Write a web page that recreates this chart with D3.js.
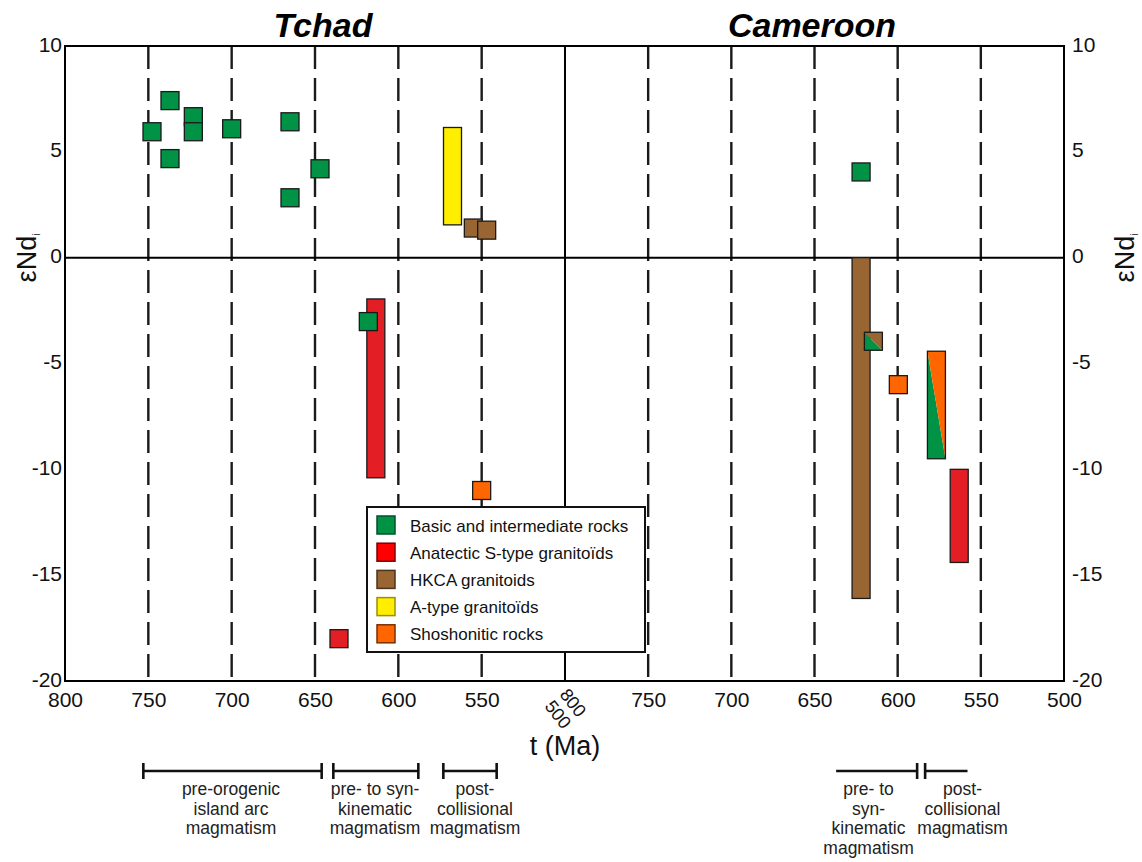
<!DOCTYPE html>
<html><head><meta charset="utf-8">
<script src="https://cdn.jsdelivr.net/npm/d3@7"></script>
<style>body{margin:0;background:#fff}svg{display:block}text{font-family:Arial,"Liberation Sans",sans-serif}</style>
</head><body><svg id="c" width="1142" height="862"></svg>
<script>
// ---- data ----
const panels = ["Tchad", "Cameroon"];
const tickValuesLeft = [800, 750, 700, 650, 600, 550];
const tickValuesRight = [750, 700, 650, 600, 550, 500];
const yTicks = [10, 5, 0, -5, -10, -15, -20];
const guideAges = [750, 700, 650, 600, 550];
const categories = ["Basic and intermediate rocks", "Anatectic S-type granitoïds", "HKCA granitoids", "A-type granitoïds", "Shoshonitic rocks"];
const catKeys = ["basic", "stype", "hkca", "atype", "shosh"];
// squares: [category, age (Ma), eNd]
const tchadSquares = [
  ["basic", 747.8, 5.95], ["basic", 737, 7.42], ["basic", 737, 4.68], ["basic", 723, 6.66], ["basic", 723, 5.95],
  ["basic", 700, 6.09], ["basic", 665, 6.42], ["basic", 665, 2.83], ["basic", 647, 4.2],
  ["stype", 635.6, -18.0], ["hkca", 555, 1.4], ["hkca", 547, 1.3], ["shosh", 550, -11.0]
];
// bars: [category, age, eNd low, eNd high]
const tchadBars = [["stype", 613.5, -10.4, -1.95], ["atype", 567.5, 1.55, 6.15]];
const tchadSquaresTop = [["basic", 618, -3.02]];
const cameroonBars = [["hkca", 622, -16.1, 0], ["stype", 563, -14.4, -10.0]];
const cameroonSquares = [["basic", 622, 4.05], ["shosh", 599.6, -6.0]];
// split marks: [lower-left category, upper-right category, age, eNd low, eNd high]
const cameroonSplitBars = [["basic", "shosh", 576.7, -9.5, -4.42]];
const cameroonSplitSquares = [["basic", "hkca", 614.6, -3.95]];
// magmatic periods: [age start, age end, label centre age, caps, lines]
const tchadPeriods = [
  [753, 646, 700.4, "both", ["pre-orogenic", "island arc", "magmatism"]],
  [639, 588, 614, "both", ["pre- to syn-", "kinematic", "magmatism"]],
  [573, 541, 554, "both", ["post-", "collisional", "magmatism"]]
];
const cameroonPeriods = [
  [637, 588.3, 617.5, "end", ["pre- to", "syn-", "kinematic", "magmatism"]],
  [583.5, 558, 561, "start", ["post-", "collisional", "magmatism"]]
];

// ---- styles ----
const fillC = {basic: "#009245", stype: "#e31e24", hkca: "#996633", atype: "#ffee00", shosh: "#ff6600"};
const legFill = {basic: "#009245", stype: "#ff0000", hkca: "#996633", atype: "#ffee00", shosh: "#ff6600"};
const legStroke = {basic: "#00502a", stype: "#7a0000", hkca: "#4d3319", atype: "#9a9000", shosh: "#7a3000"};

const svg = d3.select("#c");
const L = 65, R = 1064, T = 46, B = 681, MID = 565;
const xL = d3.scaleLinear().domain([800, 500]).range([L, MID]);
const xR = d3.scaleLinear().domain([800, 500]).range([MID, R]);
const y = d3.scaleLinear().domain([-20, 10]).range([B, T]);
const SQ = 18;

// guide dashed lines
[xL, xR].forEach(xs => {
  svg.append("g").selectAll("line").data(guideAges).join("line")
    .attr("x1", d => xs(d)).attr("x2", d => xs(d)).attr("y1", T).attr("y2", B)
    .attr("stroke", "#1a1a1a").attr("stroke-width", 2.4).attr("stroke-dasharray", "23,9");
});

// frame + zero line + middle line
svg.append("rect").attr("x", L).attr("y", T).attr("width", R - L).attr("height", B - T)
  .attr("fill", "none").attr("stroke", "#000").attr("stroke-width", 2);
svg.append("line").attr("x1", L).attr("x2", R).attr("y1", y(0)).attr("y2", y(0)).attr("stroke", "#000").attr("stroke-width", 2);
svg.append("line").attr("x1", MID).attr("x2", MID).attr("y1", T).attr("y2", B).attr("stroke", "#000").attr("stroke-width", 2);

// axes
const fmt = d => String(d);
const axL = d3.axisBottom(xL).tickValues(tickValuesLeft).tickSize(0).tickPadding(11).tickFormat(fmt);
const axR = d3.axisBottom(xR).tickValues(tickValuesRight).tickSize(0).tickPadding(11).tickFormat(fmt);
const yAxL = d3.axisLeft(y).tickValues(yTicks).tickSize(0).tickPadding(3).tickFormat(fmt);
const yAxR = d3.axisRight(y).tickValues(yTicks).tickSize(0).tickPadding(8).tickFormat(fmt);
function styleAxis(g) {
  g.select(".domain").remove();
  g.selectAll("text").attr("font-size", 21).attr("fill", "#111").style("font-family", "Arial, 'Liberation Sans', sans-serif");
}
svg.append("g").attr("transform", `translate(0,${B})`).call(axL).call(styleAxis);
svg.append("g").attr("transform", `translate(0,${B})`).call(axR).call(styleAxis);
svg.append("g").attr("transform", `translate(${L},0)`).call(yAxL).call(styleAxis).selectAll("text").attr("dy", "0.24em");
svg.append("g").attr("transform", `translate(${R},0)`).call(yAxR).call(styleAxis).selectAll("text").attr("dy", "0.24em");

// middle rotated 800/500 label
const mid = svg.append("g").attr("transform", `translate(${MID},709) rotate(52)`);
mid.append("text").attr("x", 0).attr("y", -4).attr("text-anchor", "middle").attr("font-size", 18).attr("fill", "#111").text(xR.domain()[0]);
mid.append("text").attr("x", 0).attr("y", 15).attr("text-anchor", "middle").attr("font-size", 18).attr("fill", "#111").text(xL.domain()[1]);

// axis titles
svg.append("text").attr("x", MID).attr("y", 755).attr("text-anchor", "middle").attr("font-size", 27).attr("fill", "#111").text("t (Ma)");
[[36, 258], [1134, 258]].forEach(([cx, cy]) => {
  const t = svg.append("text").attr("transform", `translate(${cx},${cy}) rotate(-90)`).attr("text-anchor", "middle")
    .attr("font-size", 27).attr("fill", "#111");
  t.append("tspan").text("εNd");
  t.append("tspan").attr("font-size", 10).attr("dy", 4).text("i");
});

// panel titles
[[323, panels[0]], [812, panels[1]]].forEach(([cx, s]) => {
  svg.append("text").attr("x", cx).attr("y", 37).attr("text-anchor", "middle").attr("font-size", 34)
    .attr("font-weight", "bold").attr("font-style", "italic").attr("fill", "#000").text(s);
});

// marks
const marks = svg.append("g").attr("stroke", "#1a1a1a").attr("stroke-width", 1.3);
function bars(data, xs) {
  marks.append("g").selectAll("rect").data(data).join("rect")
    .attr("x", d => xs(d[1]) - SQ / 2).attr("width", SQ)
    .attr("y", d => y(d[3])).attr("height", d => y(d[2]) - y(d[3]))
    .attr("fill", d => fillC[d[0]]);
}
function squares(data, xs) {
  marks.append("g").selectAll("rect").data(data).join("rect")
    .attr("x", d => xs(d[1]) - SQ / 2).attr("y", d => y(d[2]) - SQ / 2)
    .attr("width", SQ).attr("height", SQ).attr("fill", d => fillC[d[0]]);
}
function split(c1, c2, xs, t, lo, hi) {
  const x0 = xs(t) - SQ / 2, x1 = xs(t) + SQ / 2, y0 = y(hi), y1 = y(lo);
  const g = marks.append("g");
  g.append("polygon").attr("points", `${x0},${y0} ${x1},${y1} ${x0},${y1}`).attr("fill", fillC[c1]).attr("stroke", "none");
  g.append("polygon").attr("points", `${x0},${y0} ${x1},${y0} ${x1},${y1}`).attr("fill", fillC[c2]).attr("stroke", "none");
  g.append("rect").attr("x", x0).attr("y", y0).attr("width", SQ).attr("height", y1 - y0).attr("fill", "none");
}
bars(tchadBars, xL);
squares(tchadSquares, xL);
squares(tchadSquaresTop, xL);
bars(cameroonBars, xR);
squares(cameroonSquares, xR);
cameroonSplitBars.forEach(d => split(d[0], d[1], xR, d[2], d[3], d[4]));
cameroonSplitSquares.forEach(d => split(d[0], d[1], xR, d[2], d[3] - 0.425, d[3] + 0.425));

// legend
const lg = svg.append("g").attr("transform", "translate(367,507)");
lg.append("rect").attr("width", 278).attr("height", 145).attr("fill", "#fff").attr("stroke", "#111").attr("stroke-width", 2);
const rows = lg.selectAll("g.row").data(catKeys).join("g").attr("class", "row")
  .attr("transform", (d, i) => `translate(10,${18 + i * 27.2})`);
rows.append("rect").attr("x", 0).attr("y", -9).attr("width", 18).attr("height", 18)
  .attr("fill", d => legFill[d]).attr("stroke", d => legStroke[d]).attr("stroke-width", 1.5);
rows.append("text").attr("x", 33).attr("y", 6.5).attr("font-size", 17).attr("fill", "#111").text((d, i) => categories[i]);

// period brackets
const BY = 771;
function periods(data, xs) {
  data.forEach(([a, b, c, caps, lines]) => {
    const g = svg.append("g");
    const xa = xs(a), xb = xs(b);
    g.append("line").attr("x1", xa).attr("x2", xb).attr("y1", BY).attr("y2", BY).attr("stroke", "#111").attr("stroke-width", 2.6);
    if (caps === "both" || caps === "start") g.append("line").attr("x1", xa).attr("x2", xa).attr("y1", BY - 8).attr("y2", BY + 8).attr("stroke", "#111").attr("stroke-width", 2.6);
    if (caps === "both" || caps === "end") g.append("line").attr("x1", xb).attr("x2", xb).attr("y1", BY - 8).attr("y2", BY + 8).attr("stroke", "#111").attr("stroke-width", 2.6);
    g.selectAll("text").data(lines).join("text").attr("x", xs(c)).attr("y", (d, i) => 795 + i * 19.7)
      .attr("text-anchor", "middle").attr("font-size", 17.5).attr("fill", "#222").text(d => d);
  });
}
periods(tchadPeriods, xL);
periods(cameroonPeriods, xR);
</script></body></html>
